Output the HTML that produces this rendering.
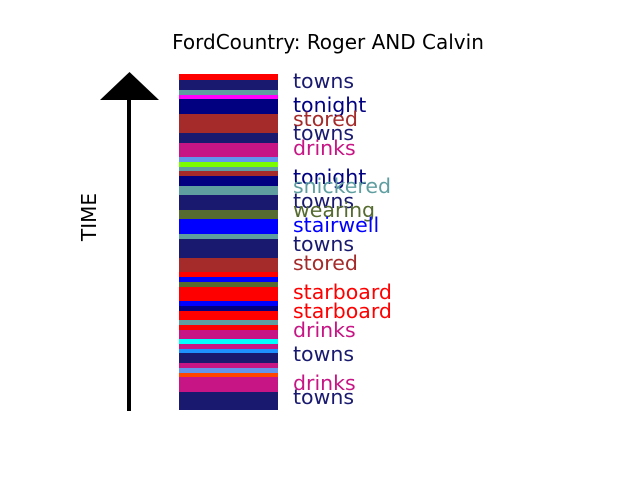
<!DOCTYPE html>
<html><head><meta charset="utf-8"><style>
body{margin:0;background:#fff;}
svg text{font-family:"DejaVu Sans","Liberation Sans",sans-serif;}
</style></head><body>
<svg id="c" width="640" height="480" xmlns="http://www.w3.org/2000/svg">
<rect width="640" height="480" fill="#fff"/>
<text x="328" y="49" font-size="20" text-anchor="middle">FordCountry: Roger AND Calvin</text>
<rect x="127" y="99" width="4" height="312" fill="#000"/>
<polygon points="100,100 159,100 129.5,72" fill="#000"/>
<text transform="translate(96,217) rotate(-90)" font-size="20" text-anchor="middle">TIME</text>
<g id="stripes"></g>
<g id="labels"></g>
</svg>
<script>
// stripe boundaries in time units (0 = top of bar)
const stripeStarts = [0,6,16,21,25,40,59,69,83,88,93,97,102,112,121,136,145,160,165,184,198,203,208,213,227,232,237,246,251,256,265,270,275,279,289,294,299,303,318];
const stripeEnds   = [6,16,21,25,40,59,69,83,88,93,97,102,112,121,136,145,160,165,184,198,203,208,213,227,232,237,246,251,256,265,270,275,279,289,294,299,303,318,336];
const stripeColors = ["red","midnightblue","cadetblue","magenta","navy","brown","midnightblue","mediumvioletred","cornflowerblue","lawngreen","cadetblue","brown","navy","cadetblue","midnightblue","darkolivegreen","blue","cadetblue","midnightblue","brown","red","blue","darkolivegreen","red","blue","navy","red","cadetblue","red","mediumvioletred","cyan","mediumvioletred","dodgerblue","midnightblue","mediumvioletred","cornflowerblue","orangered","mediumvioletred","midnightblue"];
const words = ["towns","tonight","stored","towns","drinks","tonight","snickered","towns","wearing","stairwell","towns","stored","starboard","starboard","drinks","towns","drinks","towns"];
const wordTimes = [7,31,45,59,74,103,112,127,136,151,170,189,218,237,256,280,309,323];
const wordColors = {towns:"midnightblue",tonight:"navy",stored:"brown",drinks:"mediumvioletred",snickered:"cadetblue",wearing:"darkolivegreen",stairwell:"blue",starboard:"red"};
const y = v => 74 + v;
const NS = "http://www.w3.org/2000/svg";
const sg = document.getElementById("stripes");
for (let i=0;i<stripeStarts.length;i++){
  const r=document.createElementNS(NS,"rect");
  r.setAttribute("x",179); r.setAttribute("width",99);
  r.setAttribute("y",y(stripeStarts[i])); r.setAttribute("height",y(stripeEnds[i])-y(stripeStarts[i]));
  r.setAttribute("fill",stripeColors[i]);
  
  
  sg.appendChild(r);
}
const lg = document.getElementById("labels");
for (let i=0;i<words.length;i++){
  const t=document.createElementNS(NS,"text");
  t.setAttribute("x",293); t.setAttribute("y",y(wordTimes[i])+7);
  t.setAttribute("font-size",20.5); t.setAttribute("fill",wordColors[words[i]]);
  t.textContent=words[i];
  
  
  lg.appendChild(t);
}
</script>
</body></html>
